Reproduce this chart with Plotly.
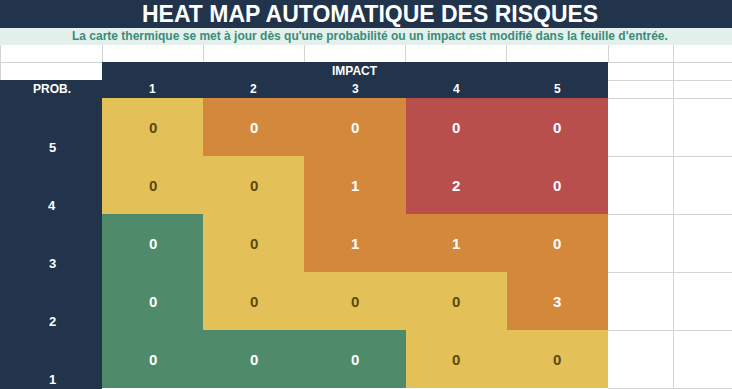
import plotly.graph_objects as go

W, H = 732, 389

impact = [1, 2, 3, 4, 5]
prob = [1, 2, 3, 4, 5]
# risk level per cell (rows: prob 1..5, cols: impact 1..5); 0=green 1=yellow 2=orange 3=red
risk_level = [
    [0, 0, 0, 1, 1],
    [0, 1, 1, 1, 2],
    [0, 1, 2, 2, 2],
    [1, 1, 2, 3, 3],
    [1, 2, 2, 3, 3],
]
counts = [
    [0, 0, 0, 0, 0],
    [0, 0, 0, 0, 3],
    [0, 0, 1, 1, 0],
    [0, 0, 1, 2, 0],
    [0, 0, 0, 0, 0],
]
title = "HEAT MAP AUTOMATIQUE DES RISQUES"
subtitle = "La carte thermique se met à jour dès qu'une probabilité ou un impact est modifié dans la feuille d'entrée."

NAVY = "#21344B"
GREEN = "#4F8A6B"
YELLOW = "#E4C058"
ORANGE = "#D3883C"
RED = "#B84F4D"
OLIVE = "#5B4A0C"
GRID = "#D4D4D4"
FONT = "Liberation Sans, Arial, sans-serif"

def px(x):
    return x / W

def py(y):
    return 1 - y / H

colors = [GREEN, YELLOW, ORANGE, RED]
cs = []
for i, c in enumerate(colors):
    cs.append([i / 4, c])
    cs.append([(i + 1) / 4, c])

fig = go.Figure()
fig.add_trace(go.Heatmap(
    x=impact, y=prob, z=risk_level, zmin=0, zmax=4,
    colorscale=cs, showscale=False, hoverinfo="skip",
))

shapes = []
def rect(x0, y0, x1, y1, color, layer="below"):
    shapes.append(dict(type="rect", xref="paper", yref="paper",
                       x0=px(x0), x1=px(x1), y0=py(y1), y1=py(y0),
                       fillcolor=color, line=dict(width=0), layer=layer))

def line(x0, y0, x1, y1):
    shapes.append(dict(type="line", xref="paper", yref="paper",
                       x0=px(x0), x1=px(x1), y0=py(y0), y1=py(y1),
                       line=dict(color=GRID, width=1), layer="below"))

# spreadsheet gridlines
for x in [102, 203, 304, 405, 506, 608, 673]:
    line(x + 0.5, 45, x + 0.5, 62)
for x in [673]:
    line(x + 0.5, 62, x + 0.5, H)
for y in [62, 80, 98, 156, 214, 272, 330, 388]:
    line(608, y + 0.5, W, y + 0.5)
line(0, 62.5, 608, 62.5)
line(0.5, 45, 0.5, H)

# title & subtitle bands
rect(0, 0, W, 28, NAVY)
rect(0, 28, W, 45, "#E3F0EB")
# header navy area
rect(102, 62, 608, 98, NAVY)
rect(0, 80, 102, 98, NAVY)
rect(0, 98, 102, H, NAVY)

ann = []
ann.append(dict(text="<b>" + title + "</b>", x=px(370), y=py(14), xref="paper", yref="paper",
                showarrow=False, font=dict(family=FONT, size=23, color="white"),
                xanchor="center", yanchor="middle"))
ann.append(dict(text="<b>" + subtitle + "</b>", x=px(370), y=py(36.5), xref="paper", yref="paper",
                showarrow=False, font=dict(family=FONT, size=12, color="#3A8C7B"),
                xanchor="center", yanchor="middle"))
ann.append(dict(text="<b>IMPACT</b>", x=3, y=py(71), xref="x", yref="paper",
                showarrow=False, font=dict(family=FONT, size=12, color="white"),
                xanchor="center", yanchor="middle"))
ann.append(dict(text="<b>PROB.</b>", x=px(52), y=py(89), xref="paper", yref="paper",
                showarrow=False, font=dict(family=FONT, size=12, color="white"),
                xanchor="center", yanchor="middle"))
for c in impact:
    ann.append(dict(text="<b>%d</b>" % c, x=c, y=py(89), xref="x", yref="paper",
                    showarrow=False, font=dict(family=FONT, size=12, color="white"),
                    xanchor="center", yanchor="middle"))
for r in prob:
    ann.append(dict(text="<b>%d</b>" % r, x=px(52), y=r - 0.35, xref="paper", yref="y",
                    showarrow=False, font=dict(family=FONT, size=13, color="white"),
                    xanchor="center", yanchor="middle"))
for ri, r in enumerate(prob):
    for ci, c in enumerate(impact):
        lvl = risk_level[ri][ci]
        col = OLIVE if lvl == 1 else "white"
        ann.append(dict(text="<b>%d</b>" % counts[ri][ci], x=c, y=r, xref="x", yref="y",
                        showarrow=False, font=dict(family=FONT, size=15, color=col),
                        xanchor="center", yanchor="middle"))

fig.update_layout(
    width=W, height=H, margin=dict(l=0, r=0, t=0, b=0),
    paper_bgcolor="white", plot_bgcolor="white",
    shapes=shapes, annotations=ann, showlegend=False,
    xaxis=dict(domain=[px(102), px(608)], range=[0.5, 5.5], visible=False, fixedrange=True),
    yaxis=dict(domain=[py(388), py(98)], range=[0.5, 5.5], visible=False, fixedrange=True),
)
fig.write_html("out.html", config={"displayModeBar": False})
